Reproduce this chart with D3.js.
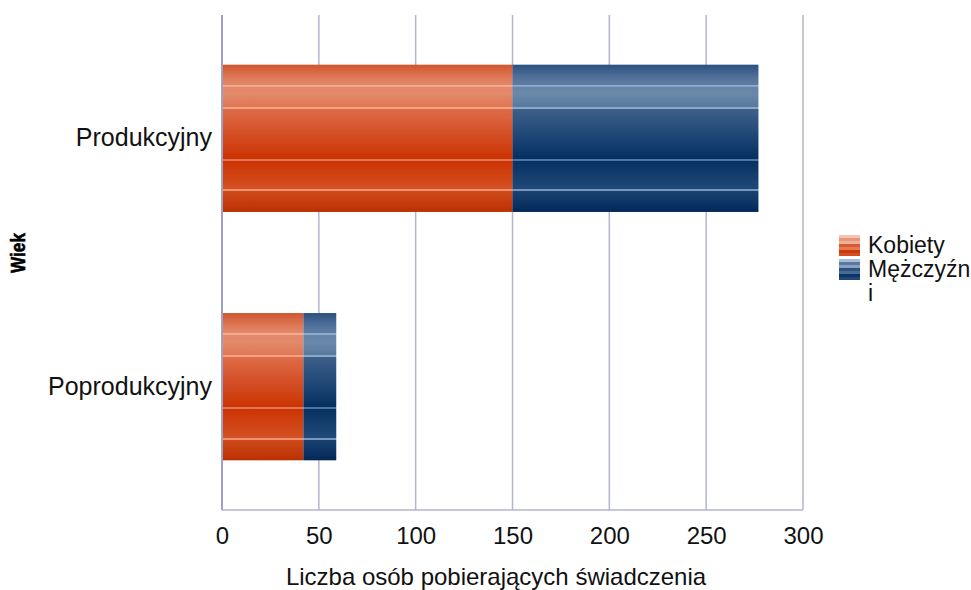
<!DOCTYPE html>
<html>
<head>
<meta charset="utf-8">
<script src="https://cdn.jsdelivr.net/npm/d3@7"></script>
<style>
  html, body { margin: 0; padding: 0; background: #fff; }
  svg { display: block; font-family: "Liberation Sans", Arial, sans-serif; }
</style>
</head>
<body>
<svg id="chart" width="971" height="590"></svg>
<script>
const categories = ["Produkcyjny", "Poprodukcyjny"];
const seriesNames = ["Kobiety", "Mężczyźni"];
const kobiety = [150, 42];
const mezczyzni = [127, 17];
const xTicks = [0, 50, 100, 150, 200, 250, 300];
const xTitle = "Liczba osób pobierających świadczenia";
const yTitle = "Wiek";

const svg = d3.select("#chart");
const margin = { left: 222, right: 168, top: 15, bottom: 80 };
const W = 971, H = 590;
const x = d3.scaleLinear().domain([0, 300]).range([margin.left, W - margin.right]);
const y = d3.scaleBand().domain(categories).range([margin.top, H - margin.bottom])
  .paddingInner(0.407).paddingOuter(0.2);

const defs = svg.append("defs");
function barGrad(id, stops) {
  const g = defs.append("linearGradient").attr("id", id)
    .attr("x1", 0).attr("y1", 0).attr("x2", 0).attr("y2", 1);
  stops.forEach(s => g.append("stop").attr("offset", s[0]).attr("stop-color", s[1]));
}
barGrad("gOrange", [
  [0, "#cf5630"], [0.09, "#df7a58"], [0.135, "#e4866a"], [0.136, "#f2ad90"], [0.148, "#f2ad90"], [0.149, "#e4886a"],
  [0.2, "#e28a6a"], [0.285, "#e07656"], [0.286, "#f0a282"], [0.298, "#f0a282"], [0.299, "#de6c48"],
  [0.5, "#d24a20"], [0.64, "#cc3300"], [0.641, "#e07458"], [0.653, "#e07458"], [0.654, "#cc3402"],
  [0.8, "#d24a1c"], [0.846, "#d45224"], [0.847, "#ee9272"], [0.859, "#ee9272"], [0.86, "#cf4a1c"],
  [1, "#bb3000"]
]);
barGrad("gBlue", [
  [0, "#2c5080"], [0.09, "#52729a"], [0.135, "#5d7ca2"], [0.136, "#8eaacc"], [0.148, "#8eaacc"], [0.149, "#6684a8"],
  [0.2, "#6a88aa"], [0.285, "#587aa0"], [0.286, "#8aa8c8"], [0.298, "#8aa8c8"], [0.299, "#3e608a"],
  [0.5, "#1c4474"], [0.64, "#033060"], [0.641, "#4e74a2"], [0.653, "#4e74a2"], [0.654, "#053260"],
  [0.8, "#1a4474"], [0.846, "#204a7a"], [0.847, "#7896bc"], [0.859, "#7896bc"], [0.86, "#1a4270"],
  [1, "#02285a"]
]);
function stripeGrad(id, cols) {
  const g = defs.append("linearGradient").attr("id", id)
    .attr("x1", 0).attr("y1", 0).attr("x2", 0).attr("y2", 1);
  const n = cols.length;
  cols.forEach((c, i) => {
    g.append("stop").attr("offset", i / n).attr("stop-color", c);
    g.append("stop").attr("offset", (i + 1) / n).attr("stop-color", c);
  });
}
stripeGrad("lOrange", ["#f4c4b0", "#e8967a", "#f0b098", "#d85a30", "#e47a54", "#cc3a08", "#d45020"]);
stripeGrad("lBlue", ["#a8bcd4", "#5878a0", "#8aa0c0", "#2c5080", "#4a6a94", "#0a3464", "#204878"]);
const fills = ["url(#gOrange)", "url(#gBlue)"];
const legendFills = ["url(#lOrange)", "url(#lBlue)"];

// grid
const plotTop = margin.top, plotBottom = H - margin.bottom;
svg.append("g").selectAll("line").data(xTicks.slice(1)).join("line")
  .attr("x1", d => x(d)).attr("x2", d => x(d))
  .attr("y1", plotTop).attr("y2", plotBottom)
  .attr("stroke", "#b4b4d0").attr("stroke-width", 1.5);
svg.append("line").attr("x1", x(0)).attr("x2", x(300)).attr("y1", plotBottom).attr("y2", plotBottom)
  .attr("stroke", "#b4b4d0").attr("stroke-width", 1.5);

// bars
const stackData = categories.map((c, i) => ({ cat: c, Kobiety: kobiety[i], "Mężczyźni": mezczyzni[i] }));
const stacked = d3.stack().keys(seriesNames)(stackData);
svg.append("g").selectAll("g").data(stacked).join("g")
  .attr("fill", (d, i) => fills[i])
  .selectAll("rect").data(d => d).join("rect")
  .attr("x", d => x(d[0]))
  .attr("width", d => x(d[1]) - x(d[0]))
  .attr("y", d => y(d.data.cat))
  .attr("height", y.bandwidth());

// left axis line
svg.append("line").attr("x1", x(0)).attr("x2", x(0)).attr("y1", plotTop).attr("y2", plotBottom)
  .attr("stroke", "#a0a0c4").attr("stroke-width", 2);

// x axis labels
const xAxis = svg.append("g").attr("transform", `translate(0,${plotBottom})`)
  .call(d3.axisBottom(x).tickValues(xTicks).tickSize(0).tickPadding(17).tickFormat(d3.format("d")));
xAxis.select(".domain").remove();
xAxis.selectAll("text").attr("font-size", 24).attr("fill", "#111").attr("font-family", "Liberation Sans, Arial, sans-serif");

// y axis labels
const yAxis = svg.append("g").attr("transform", `translate(${x(0)},0)`)
  .call(d3.axisLeft(y).tickSize(0).tickPadding(10));
yAxis.select(".domain").remove();
yAxis.selectAll("text").attr("font-size", 25).attr("fill", "#111").attr("font-family", "Liberation Sans, Arial, sans-serif");

// titles
svg.append("text").attr("x", 496).attr("y", 585).attr("text-anchor", "middle")
  .attr("font-size", 24).attr("fill", "#111").text(xTitle);
svg.append("text").attr("transform", "translate(25,253) rotate(-90)").attr("text-anchor", "middle")
  .attr("font-size", 21).attr("font-weight", 900).attr("fill", "#000")
  .attr("textLength", 40).attr("lengthAdjust", "spacingAndGlyphs")
  .attr("stroke", "#000").attr("stroke-width", 0.6).text(yTitle);

// legend
const lg = svg.append("g").attr("transform", "translate(839,235)");
const items = lg.selectAll("g").data(seriesNames).join("g")
  .attr("transform", (d, i) => `translate(0,${i * 24})`);
items.append("rect").attr("width", 21).attr("height", 21).attr("fill", (d, i) => legendFills[i]);
items.append("text").attr("x", 29).attr("y", 18).attr("font-size", 23).attr("fill", "#111")
  .each(function(d) {
    const t = d3.select(this);
    const parts = d === "Mężczyźni" ? ["Mężczyźn", "i"] : [d];
    parts.forEach((p, j) => t.append("tspan").attr("x", 29).attr("dy", j === 0 ? 0 : 24).text(p));
  });
</script>
</body>
</html>
